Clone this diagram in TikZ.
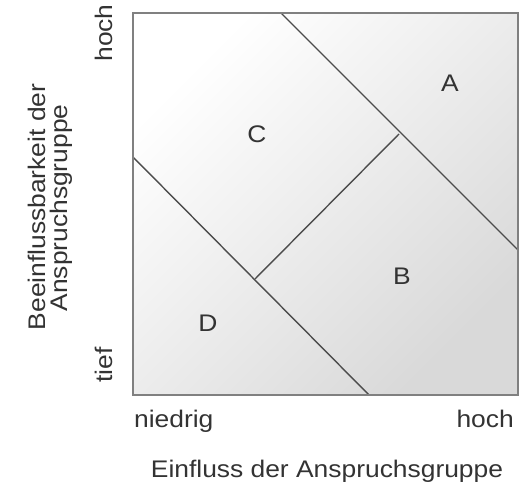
\documentclass[tikz,border=0pt]{standalone}
\usepackage{fontspec}
\setmainfont{Liberation Sans}[FakeStretch=1.1]
\begin{document}
\begin{tikzpicture}[x=1pt,y=-1pt,
  lbl/.style={inner sep=0pt,text=black!80,font=\fontsize{24}{28}\selectfont},
  frame/.style={draw=black!50,line width=2.6pt},
  divider/.style={draw=black!70,line width=1.4pt}]
\useasboundingbox (0,0) rectangle (522,486);
% frame corners
\coordinate (tl) at (133,13);
\coordinate (br) at (518,395);
% divider end points
\coordinate (u1) at (281,13);
\coordinate (u2) at (518,250);
\coordinate (l1) at (133,157);
\coordinate (l2) at (369,395);
\coordinate (p1) at (255,279);
\coordinate (p2) at (399,134);
\shade[top color=white, bottom color=black!15, shading angle=45] (tl) rectangle (br);
\draw[divider] (u1) -- (u2);
\draw[divider] (l1) -- (l2);
\draw[divider] (p1) -- (p2);
\draw[frame] (tl) rectangle (br);
% region labels
\node[lbl] (A) at (450,83) {A};
\node[lbl] (B) at (402,276) {B};
\node[lbl] (C) at (257,134) {C};
\node[lbl] (D) at (208,323) {D};
% axis labels
\node[lbl,anchor=base west] (xlo) at (134,427) {niedrig};
\node[lbl,anchor=base east] (xhi) at (514,427) {hoch};
\node[lbl,anchor=base] (xt) at (327,477) {Einfluss der Anspruchsgruppe};
\node[lbl,rotate=90] (yhi) at (104,33) {hoch};
\node[lbl,rotate=90] (ylo) at (104,365) {tief};
\node[lbl,rotate=90] (yt1) at (37,207) {Beeinflussbarkeit der};
\node[lbl,rotate=90] (yt2) at (61,208) {Anspruchsgruppe};
\end{tikzpicture}
\end{document}
